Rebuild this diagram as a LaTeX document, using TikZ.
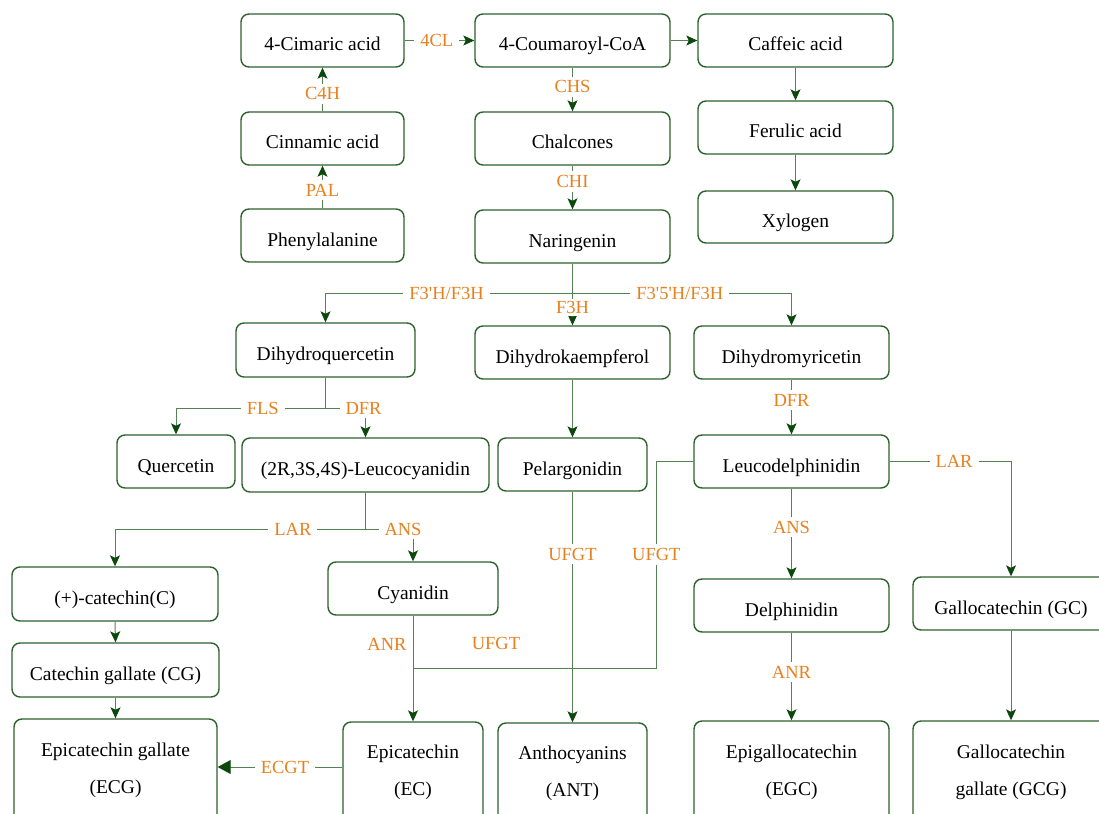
\documentclass[tikz,border=0pt]{standalone}
\usepackage{fontspec}
\setmainfont{Liberation Serif}
\usetikzlibrary{arrows.meta}
\definecolor{boxcol}{RGB}{45,98,45}
\definecolor{linecol}{RGB}{85,130,85}
\definecolor{headcol}{RGB}{12,72,12}
\definecolor{labcol}{RGB}{232,128,30}
\tikzset{
 box/.style={draw=boxcol, line width=1.4pt, rounded corners=8pt, fill=white, inner sep=0pt,
   font=\fontsize{19.5}{37}\selectfont, text height=21pt, text depth=0pt},
 tbox/.style={draw=boxcol, line width=1.4pt, rounded corners=8pt, fill=white, inner sep=0pt,
   font=\fontsize{19.5}{37}\selectfont, align=center},
 conn/.style={draw=linecol, line width=1pt},
 arr/.style={conn, -{Stealth[length=11pt,width=10pt,inset=2.5pt,color=headcol]}},
 bigarr/.style={conn, -{Triangle[length=13pt,width=14pt,color=headcol]}},
 lab/.style={fill=white, text=labcol, inner xsep=6pt, inner ysep=4pt, font=\fontsize{18.5}{20}\selectfont},
}
\begin{document}
\begin{tikzpicture}[x=1pt,y=-1pt]
\useasboundingbox (0,0) rectangle (1099,813);
\fill[white] (0,0) rectangle (1099,813);
\clip (0,0) rectangle (1099,813);

% boxes
\node[box, minimum width=163pt, minimum height=53pt] (cim) at (322.5,40.5) {4-Cimaric acid};
\node[box, minimum width=195pt, minimum height=53pt] (cou) at (572.5,40.5) {4-Coumaroyl-CoA};
\node[box, minimum width=195pt, minimum height=53pt] (caf) at (795.5,40.5) {Caffeic acid};
\node[box, minimum width=163pt, minimum height=53pt] (cin) at (322.5,138.5) {Cinnamic acid};
\node[box, minimum width=195pt, minimum height=53pt] (cha) at (572.5,138.5) {Chalcones};
\node[box, minimum width=195pt, minimum height=53pt] (fer) at (795.5,127.5) {Ferulic acid};
\node[box, minimum width=163pt, minimum height=53pt] (phe) at (322.5,235.5) {Phenylalanine};
\node[box, minimum width=195pt, minimum height=53pt] (nar) at (572.5,236.5) {Naringenin};
\node[box, minimum width=195pt, minimum height=52pt] (xyl) at (795.5,217) {Xylogen};
\node[box, minimum width=179pt, minimum height=54pt] (dhq) at (325.5,350) {Dihydroquercetin};
\node[box, minimum width=195pt, minimum height=53pt] (dhk) at (572.5,352.5) {Dihydrokaempferol};
\node[box, minimum width=195pt, minimum height=53pt] (dhm) at (791.5,352.5) {Dihydromyricetin};
\node[box, minimum width=118pt, minimum height=53pt] (que) at (176,461.5) {Quercetin};
\node[box, minimum width=247pt, minimum height=54pt] (leuc) at (365.5,465) {(2R,3S,4S)-Leucocyanidin};
\node[box, minimum width=149pt, minimum height=53pt] (pel) at (572.5,464.5) {Pelargonidin};
\node[box, minimum width=195pt, minimum height=53pt] (leud) at (791.5,461.5) {Leucodelphinidin};
\node[box, minimum width=206pt, minimum height=54pt] (cat) at (115,594) {(+)-catechin(C)};
\node[box, minimum width=170pt, minimum height=53pt] (cya) at (413,588.5) {Cyanidin};
\node[box, minimum width=195pt, minimum height=53pt] (del) at (791.5,605.5) {Delphinidin};
\node[box, minimum width=196pt, minimum height=53pt] (gc) at (1011,603.5) {Gallocatechin (GC)};
\node[box, minimum width=207pt, minimum height=54pt] (cg) at (115.5,670) {Catechin gallate (CG)};
\node[tbox, minimum width=203pt, minimum height=103pt] (ecg) at (115.5,770.5) {Epicatechin gallate\\(ECG)};
\node[tbox, minimum width=140pt, minimum height=100pt] (ec) at (413,772) {Epicatechin\\(EC)};
\node[tbox, minimum width=149pt, minimum height=100pt] (ant) at (572.5,773) {Anthocyanins\\(ANT)};
\node[tbox, minimum width=195pt, minimum height=102pt] (egc) at (791.5,772) {Epigallocatechin\\(EGC)};
\node[tbox, minimum width=196pt, minimum height=102pt] (gcg) at (1011,772) {Gallocatechin\\gallate (GCG)};

% top connectors
\draw[arr] (phe.north) -- node[lab,pos=0.43]{PAL} (cin.south);
\draw[arr] (cin.north) -- node[lab,pos=0.4]{C4H} (cim.south);
\draw[arr] (cim.east) -- node[lab,pos=0.46]{4CL} (cou.west);
\draw[arr] (cou.east) -- (caf.west);
\draw[arr] (cou.south) -- node[lab,pos=0.44]{CHS} (cha.north);
\draw[arr] (cha.south) -- node[lab,pos=0.36]{CHI} (nar.north);
\draw[arr] (caf.south) -- (fer.north);
\draw[arr] (fer.south) -- (xyl.north);

% naringenin branches
\coordinate (J1) at (572.5,293);
\draw[conn] (nar.south) -- (J1);
\draw[arr] (J1) -- node[lab,pos=0.51]{F3\textquotesingle H/F3H} (dhq.north |- J1) -- (dhq.north);
\draw[arr] (J1) -- node[lab,pos=0.49]{F3\textquotesingle 5\textquotesingle H/F3H} (dhm.north |- J1) -- (dhm.north);
\draw[arr] (J1) -- node[lab,pos=0.45,inner ysep=2pt]{F3H} (dhk.north);

% dihydroquercetin branches
\coordinate (J2) at (325.5,408);
\draw[conn] (dhq.south) -- (J2);
\draw[arr] (J2) -- node[lab,pos=0.42]{FLS} (que.north |- J2) -- (que.north);
\draw[arr] (J2) -- (leuc.north |- J2) node[lab,xshift=-2pt]{DFR} -- (leuc.north);

% leucocyanidin branches
\coordinate (J3) at (365.5,529);
\draw[conn] (leuc.south) -- (J3);
\draw[arr] (J3) -- node[lab,pos=0.29]{LAR} (cat.north |- J3) -- (cat.north);
\draw[arr] (J3) -- (cya.north |- J3) node[lab,xshift=-10pt]{ANS} -- (cya.north);

% middle column
\draw[arr] (dhk.south) -- (pel.north);
\draw[arr] (pel.south) -- node[lab,pos=0.27]{UFGT} (ant.north);

% right column
\draw[arr] (dhm.south) -- node[lab,pos=0.375]{DFR} (leud.north);
\draw[arr] (leud.east) -- node[lab,pos=0.53]{LAR} (gc.north |- leud.east) -- (gc.north);
\draw[arr] (leud.south) -- node[lab,pos=0.43]{ANS} (del.north);
\draw[arr] (del.south) -- node[lab,pos=0.45]{ANR} (egc.north);
\draw[arr] (gc.south) -- (gcg.north);

% catechin column
\draw[arr] (cat.south) -- (cg.north);
\draw[arr] (cg.south) -- (ecg.north);

% cyanidin / epicatechin
\coordinate (J4) at (413,668);
\draw[conn] (leud.west) -- ++(-37,0) -- node[lab,pos=0.45]{UFGT} ++(0,206.5) -- (J4);
\draw[arr] (cya.south) -- (ec.north);
\node[lab] (anrl) at (387,644) {ANR};
\node[lab] (ufgtl) at (496,643) {UFGT};
\draw[bigarr] ([yshift=5pt]ec.west) -- node[lab,pos=0.46]{ECGT} ([yshift=5pt]ec.west -| ecg.east);
\end{tikzpicture}
\end{document}
